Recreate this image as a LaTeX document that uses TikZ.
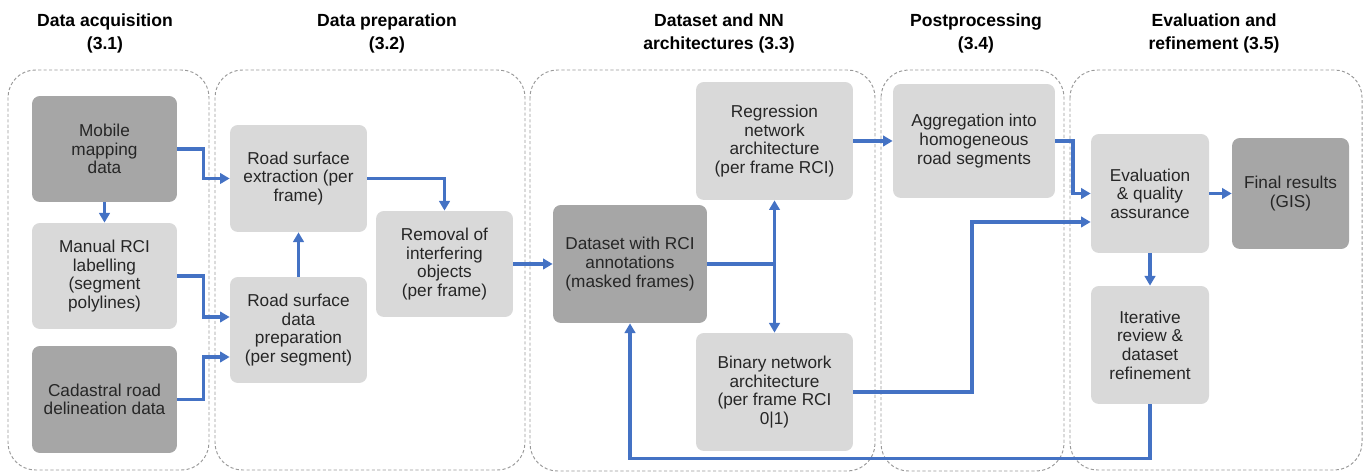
\documentclass[tikz,border=0pt]{standalone}
\usepackage{fontspec}
\setmainfont{Liberation Sans}
\usetikzlibrary{arrows.meta,calc}

\definecolor{boxlight}{HTML}{D9D9D9}
\definecolor{boxdark}{HTML}{A6A6A6}
\definecolor{flowblue}{HTML}{4472C4}
\definecolor{txtgray}{HTML}{262626}

\begin{document}
\begin{tikzpicture}[x=0.02cm,y=-0.02cm,
  stage/.style={draw=gray!80,line width=0.55pt,dash pattern=on 1.8pt off 1.3pt,rounded corners=0.55cm},
  title/.style={font=\fontsize{10}{13}\selectfont\bfseries,align=center,text=black},
  box/.style={rounded corners=4.5pt,fill=boxlight,align=center,inner sep=0pt,text=txtgray,font=\fontsize{9.8}{10.6}\selectfont},
  dark box/.style={box,fill=boxdark},
  flow/.style={draw=flowblue,line width=1.8pt,-{Triangle[length=5.5pt,width=6pt]}},
  hvh/.style={to path={-| ($(\tikztostart)!.5!(\tikztotarget)$) |- (\tikztotarget) \tikztonodes}}]

  \useasboundingbox (0,0) rectangle (1369,472);

  % stages
  \draw[stage] (8,70) rectangle (209,470);
  \draw[stage] (215,70) rectangle (525,470);
  \draw[stage] (530,70) rectangle (875,471);
  \draw[stage] (881,70) rectangle (1064,471);
  \draw[stage] (1070,70) rectangle (1362,470);

  \node[title] (t1) at (105,33.5) {Data acquisition\\(3.1)};
  \node[title] (t2) at (387,33.5) {Data preparation\\(3.2)};
  \node[title] (t3) at (719,33.5) {Dataset and NN\\architectures (3.3)};
  \node[title] (t4) at (976,33.5) {Postprocessing\\(3.4)};
  \node[title] (t5) at (1214,33.5) {Evaluation and\\refinement (3.5)};

  % data acquisition
  \node[dark box,minimum width=2.9cm,minimum height=2.12cm] (mob) at (104.5,149) {Mobile\\mapping\\data};
  \node[box,minimum width=2.9cm,minimum height=2.12cm] (man) at (104.5,276) {Manual RCI\\labelling\\(segment\\polylines)};
  \node[dark box,minimum width=2.9cm,minimum height=2.14cm] (cad) at (104.5,399.5) {Cadastral road\\delineation data};

  % data preparation
  \node[box,minimum width=2.74cm,minimum height=2.14cm] (ext) at (298.5,178.5) {Road surface\\extraction (per\\frame)};
  \node[box,minimum width=2.74cm,minimum height=2.12cm] (prep) at (298.5,330) {Road surface\\data\\preparation\\(per segment)};
  \node[box,minimum width=2.74cm,minimum height=2.12cm] (rem) at (444.5,264) {Removal of\\interfering\\objects\\(per frame)};

  % dataset and networks
  \node[dark box,minimum width=3.08cm,minimum height=2.36cm] (ds) at (630,264) {Dataset with RCI\\annotations\\(masked frames)};
  \node[box,minimum width=3.14cm,minimum height=2.36cm] (reg) at (774.5,141) {Regression\\network\\architecture\\(per frame RCI)};
  \node[box,minimum width=3.14cm,minimum height=2.36cm] (bin) at (774.5,392) {Binary network\\architecture\\(per frame RCI\\0|1)};

  % postprocessing
  \node[box,minimum width=3.24cm,minimum height=2.28cm] (agg) at (974,141) {Aggregation into\\homogeneous\\road segments};

  % evaluation
  \node[box,minimum width=2.36cm,minimum height=2.38cm] (eval) at (1150,193.5) {Evaluation\\\& quality\\assurance};
  \node[dark box,minimum width=2.34cm,minimum height=2.22cm] (fin) at (1290.5,193.5) {Final results\\(GIS)};
  \node[box,minimum width=2.36cm,minimum height=2.36cm] (iter) at (1150,345) {Iterative\\review \&\\dataset\\refinement};

  % connectors
  \draw[flow] (mob.east) to[hvh] (ext.west);
  \draw[flow] (mob) -- (man);
  \draw[flow] (man.east) to[hvh] ($(prep.west)+(0,-13)$);
  \draw[flow] (cad.east) to[hvh] ($(prep.west)+(0,27)$);
  \draw[flow] (prep) -- (ext);
  \draw[flow] (ext.east) -| (rem.north);
  \draw[flow] (rem) -- (ds);
  \draw[flow] (ds.east) -| (reg.south);
  \draw[flow] (ds.east) -| (bin.north);
  \draw[flow] (reg) -- (agg);
  \draw[flow] (agg.east) to[hvh] (eval.west);
  \draw[flow] (bin.east) to[hvh] ($(eval.west)+(0,28.5)$);
  \draw[flow] (eval) -- (fin);
  \draw[flow] (eval) -- (iter);
  \draw[flow] (iter.south) -- ++(0,54) -| (ds.south);
\end{tikzpicture}
\end{document}
